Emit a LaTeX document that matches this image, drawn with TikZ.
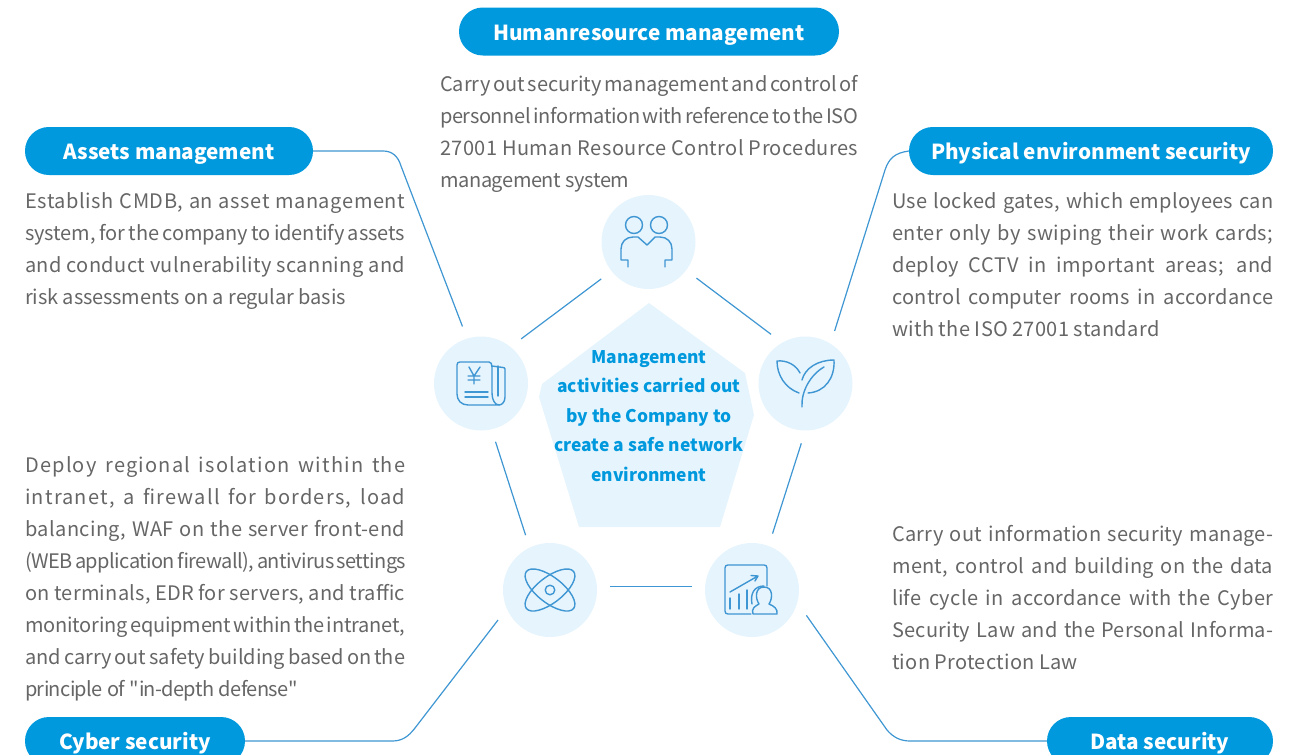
\documentclass[tikz,border=0pt]{standalone}
\usepackage{fontspec}
\setmainfont{Noto Sans CJK SC}
\newfontfamily\plainq{Noto Sans CJK SC}
\definecolor{pale}{HTML}{E6F4FD}
\definecolor{pill}{HTML}{0099DD}
\definecolor{link}{HTML}{3E96D2}
\definecolor{body}{HTML}{666666}
\newdimen\blockw
\newcommand\jl[2][0]{\hbox to \blockw{\addfontfeature{LetterSpace=#1}\spaceskip=.22em plus 3em minus .1em\strut #2}}
\newcommand\nl[2][0]{\hbox to \blockw{\addfontfeature{LetterSpace=#1}\spaceskip=.22em plus 3em minus .1em\strut #2\hss}}
\tikzset{
  x=1pt,y=-1pt,
  disc/.style={circle,fill=pale,minimum size=94pt,inner sep=0pt,outer sep=13pt},
  tag/.style={rounded corners=23.9pt,fill=pill,text=white,minimum height=48pt,inner sep=0pt},
  tagtext/.style={anchor=base,text=white,inner sep=0pt,font=\fontsize{20.7}{26}\selectfont\bfseries},
  para/.style={anchor=north west,inner sep=0pt,text=body,font=\fontsize{20}{32}\selectfont},
  linkline/.style={draw=link,line width=1.2pt},
  icon/.style={draw=link,line width=1.4pt,line join=round,line cap=round},
}
\begin{document}
\begin{tikzpicture}
\useasboundingbox (0,0) rectangle (1307,755);
\clip (0,0) rectangle (1307,755);
% discs
\node[disc] (c1) at (648.5,242) {};
\node[disc] (c2) at (481,383.5) {};
\node[disc] (c3) at (805.5,383.5) {};
\node[disc] (c4) at (550,590) {};
\node[disc] (c5) at (752,590) {};
% tags
\node[tag,minimum width=380pt] (t1) at (649,31.5) {};
\node[tag,minimum width=288pt] (t2) at (169,151) {};
\node[tag,minimum width=364pt] (t3) at (1091,151) {};
\node[tag,minimum width=220pt] (t4) at (135,741) {};
\node[tag,minimum width=226pt] (t5) at (1160,741) {};
\node[tagtext] (t1x) at (649,40) {Humanresource management};
\node[tagtext] (t2x) at (169,159) {Assets management};
\node[tagtext] (t3x) at (1091,159) {Physical environment security};
\node[tagtext] (t4x) at (135,749) {Cyber security};
\node[tagtext] (t5x) at (1160,749) {Data security};
% centre pentagon
\fill[pale] (649,303) -- (745,373) -- (754,415) -- (720,527) -- (579,527) -- (539,397) -- (542,384) -- cycle;
\node[align=center,text=pill,inner sep=0pt,font=\fontsize{17.4}{29.5}\selectfont\bfseries] (mid) at (649,416) {Management\\activities carried out\\by the Company to\\create a safe network\\environment};
% inner ring
\draw[linkline] (c1.218) -- (c2.48);
\draw[linkline] (c1.-37) -- (c3.125);
\draw[linkline] (c2.-76) -- (c4.114);
\draw[linkline] (c3.-94) -- (c5.70);
\draw[linkline] (c4.3) -- (c5.177);
% outer connectors
\draw[linkline] (t2.east) -- (383,151) .. controls (392,151) and (398,156) .. (401,166) -- (c2.108);
\draw[linkline] (t3.west) .. controls (895,153) and (889,158) .. (885,170) -- (c3.61);
\draw[linkline] (t4.east) -- (392,741) .. controls (402,741) and (408,737) .. (415,728) -- (c4.210);
\draw[linkline] (t5.west) -- (910,741) .. controls (900,741) and (893,737) .. (887,730) -- (c5.-25);
% texts
\blockw=418pt
\node[para] (p1) at (440,69) {\vbox{\jl{Carry out security management and control of}\jl[-1.9]{personnel information with reference to the ISO}\jl[2]{27001 Human Resource Control Procedures}\nl[-2]{management system}}};
\blockw=380pt
\node[para] (p2) at (25,186) {\vbox{\jl[3]{Establish CMDB, an asset management}\jl[-.3]{system, for the company to identify assets}\jl[2]{and conduct vulnerability scanning and}\nl[-.6]{risk assessments on a regular basis}}};
\blockw=381pt
\node[para] (p3) at (892,186) {\vbox{\jl[1.5]{Use locked gates, which employees can}\jl[1.5]{enter only by swiping their work cards;}\jl[3]{deploy CCTV in important areas; and}\jl[1.5]{control computer rooms in accordance}\nl[1.8]{with the ISO 27001 standard}}};
\blockw=380pt
\node[para] (p4) at (25,450) {\vbox{\jl[6]{Deploy regional isolation within the}\jl[6]{intranet, a firewall for borders, load}\jl[2]{balancing, WAF on the server front-end}\jl[-2.8]{(WEB application firewall), antivirus settings}\jl[1.5]{on terminals, EDR for servers, and traffic}\jl[-1]{monitoring equipment within the intranet,}\jl{and carry out safety building based on the}\nl[-3.2]{principle of {\plainq"}in-depth defense{\plainq"}}}};
\blockw=381pt
\node[para] (p5) at (892,519) {\vbox{\jl[1]{Carry out information security manage-}\jl[1.5]{ment, control and building on the data}\jl[1.5]{life cycle in accordance with the Cyber}\jl[1]{Security Law and the Personal Informa-}\nl[1.3]{tion Protection Law}}};
% people icon
\draw[icon] (634,225) circle (8.5) (659,225) circle (8.5);
\draw[icon] (628,267) -- (628,260) -- (621,260) -- (621,249) .. controls (621,242) and (626,237) .. (633,237) -- (638,237) -- (647,245) -- (655,237) -- (660,237) .. controls (667,237) and (672,242) .. (672,249) -- (672,260) -- (665,260) -- (665,267);
% newspaper icon
\draw[icon] (492,367) -- (492,393) .. controls (492,400) and (495,405) .. (499,405) -- (468,405) .. controls (461,405) and (457,400) .. (457,394) -- (457,365) .. controls (457,363) and (458,362) .. (460,362) -- (489,362) .. controls (491,362) and (492,364) .. (492,367);
\draw[icon] (492,366) -- (503,367.5) .. controls (504,367.5) and (505,368) .. (505,369) -- (505,397) .. controls (505,402) and (502,405) .. (499,405);
\draw[icon] (498,366) -- (498,396);
\draw[icon] (469,367) -- (474,376) -- (480,367) (474,376) -- (474,384) (468,376) -- (480,376) (468,380) -- (480,380);
\draw[icon] (465,392) -- (488,392) (465,397) -- (488,397);
% leaf icon
\draw[icon] (800,373) .. controls (796,365) and (787,360) .. (777,361) .. controls (777,375) and (785,388) .. (799,393);
\draw[icon] (802,380) .. controls (805,368) and (818,360) .. (834,360) .. controls (835,378) and (825,392) .. (808,393);
\draw[icon] (802,407) .. controls (801,392) and (810,375) .. (824,367);
% atom icon
\draw[icon] (550,590) circle (4.8);
\draw[icon,rotate around={38:(550,590)}] (550,590) ellipse (30 and 12.8);
\draw[icon,rotate around={-38:(550,590)}] (550,590) ellipse (30 and 12.8);
% chart icon
\draw[icon] (767,586) -- (767,568) .. controls (767,566) and (766,565) .. (764,565) -- (728,565) .. controls (726,565) and (725,566) .. (725,568) -- (725,611) .. controls (725,613) and (726,614) .. (728,614) -- (751,614);
\draw[icon] (730,592) -- (757,576.5) (751,575.5) -- (758,576) -- (755,581);
\draw[icon] (730,598) -- (730,609) (739,594) -- (739,609) (747,590) -- (747,609);
\draw[icon] (753,614) -- (777,614) .. controls (778,609) and (774,606) .. (769,604) .. controls (773,598) and (773,587) .. (764,587) .. controls (755,587) and (755,598) .. (759,604) .. controls (755,606) and (751,609) .. (753,614);
\draw[icon] (752,604) .. controls (750,594) and (754,586) .. (764,586);
\end{tikzpicture}
\end{document}
